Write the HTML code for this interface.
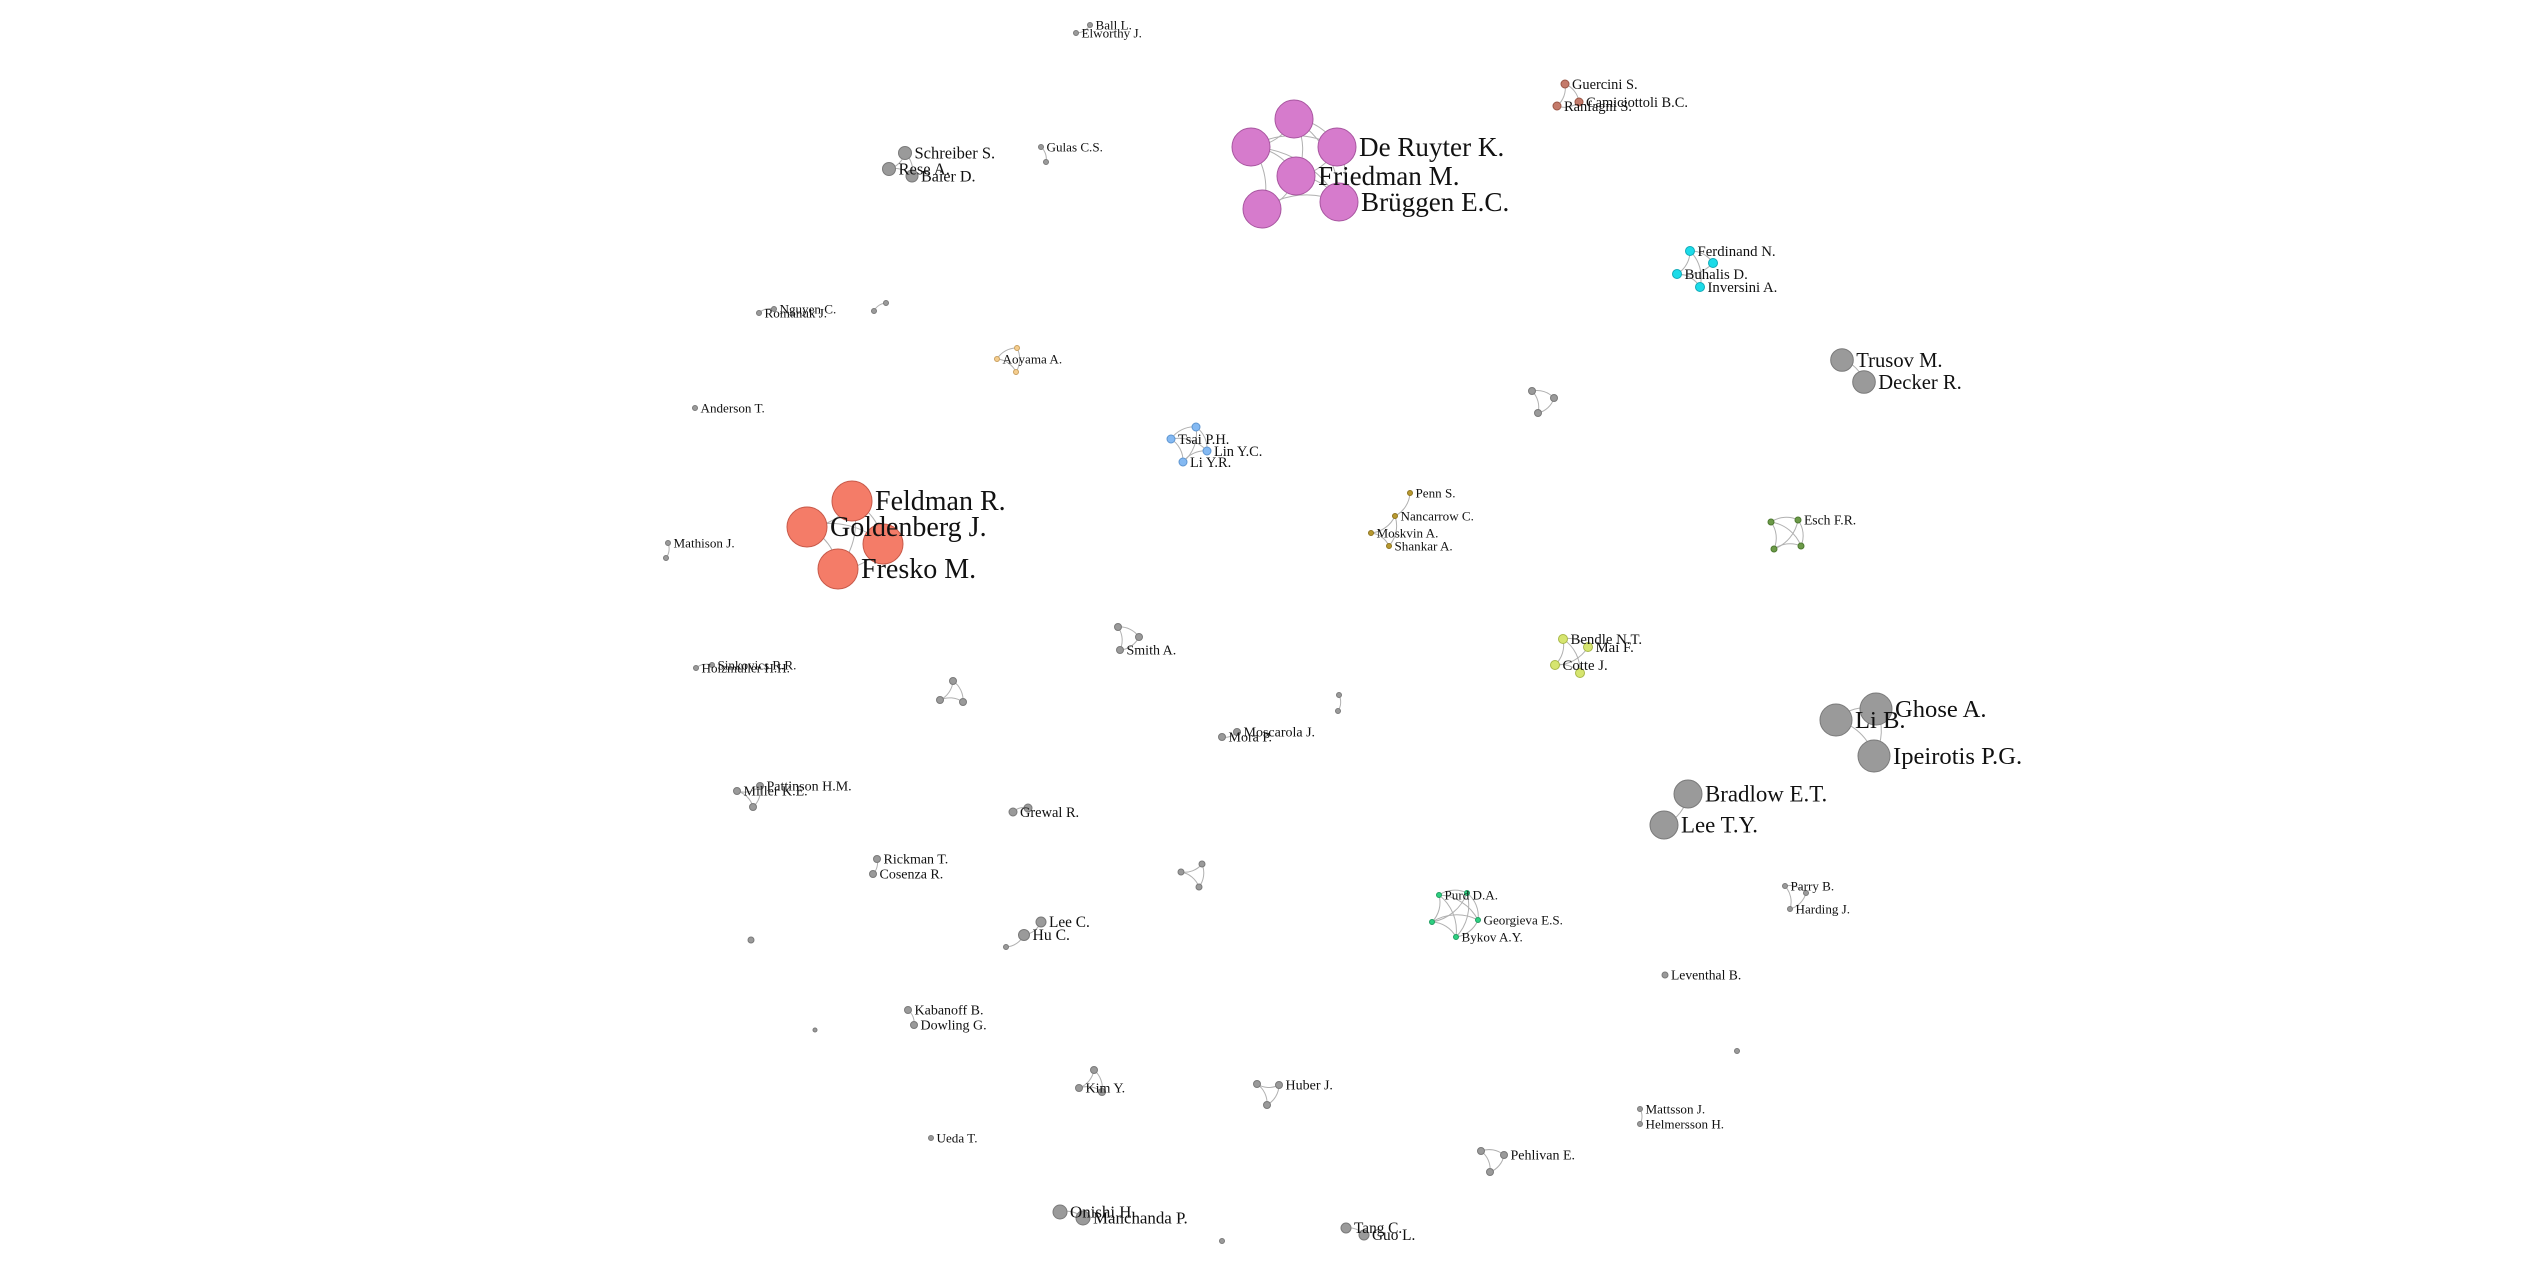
<!DOCTYPE html>
<html><head><meta charset="utf-8">
<style>
html,body{margin:0;padding:0;background:#fff;}
svg{display:block;}
text{font-family:"Liberation Serif","DejaVu Serif",serif;fill:#111;}
</style></head>
<body>
<svg id="net" width="2542" height="1275" viewBox="0 0 2542 1275" xmlns="http://www.w3.org/2000/svg">
<g id="edges"></g>
<g id="nodes"></g>
</svg>
<script>
const colors = {g:"#9a9a9a",p:"#d67bcc",o:"#f47c68",b:"#84b9f2",c:"#1cdbe8",r:"#c47a6a",y:"#b99a30",v:"#6c9a48",l:"#d6e56f",t:"#2ecf80",a:"#f5cd8e"};
const strokes = {g:"#7a7a7a",p:"#a856a0",o:"#c85a4a",b:"#5e95d0",c:"#10aab8",r:"#9a5646",y:"#8e7420",v:"#4d7a30",l:"#a8b848",t:"#1d9e60",a:"#c9a060"};
const nodeIds = ["ball","elw","sch","rese","baier","gulas","gulas2","rom","ngu","pa1","pa2","aoy","ao2","ao3","and","tsai","ts2","lin","liyr","feld","gold","or3","fres","math","math2","sm1","sm2","smith","pu1","pu2","druy","fried","pu5","brug","guer","cami","ranf","ferd","cy2","buh","inv","trus","deck","tr1","tr2","tr3","penn","nanc","mosk","shan","es1","esch","es3","es4","holz","sink","t21","t22","t23","mosc","mora","bend","mai","cotte","bd4","pb1","pb2","lib","ghose","ipei","patt","mill","mi3","grew","gr2","brad","leety","rick","cos","t31","t32","t33","purd","pd2","pd3","geor","byk","parry","pr2","hard","leec","huc","hu3","iso1","lev","kab","dow","iso2","iso3","ki1","kim","ki3","hub","hu2","hb3","matt","helm","ueda","pe1","pehl","pe3","oni","man","tang","guo","iso4"];
const nodeX = [1090,1076,905,889,912,1041,1046,759,774,874,886,997,1017,1016,695,1171,1196,1207,1183,852,807,883,838,668,666,1118,1139,1120,1294,1251,1337,1296,1262,1339,1565,1579,1557,1690,1713,1677,1700,1842,1864,1532,1554,1538,1410,1395,1371,1389,1771,1798,1774,1801,696,712,953,940,963,1237,1222,1563,1588,1555,1580,1339,1338,1836,1876,1874,760,737,753,1013,1028,1688,1664,877,873,1202,1181,1199,1439,1467,1432,1478,1456,1785,1806,1790,1041,1024,1006,751,1665,908,914,815,1737,1094,1079,1102,1279,1257,1267,1640,1640,931,1481,1504,1490,1060,1083,1346,1364,1222];
const nodeY = [25,33,153,169,176,147,162,313,309,311,303,359,348,372,408,439,427,451,462,501,527,544,569,543,558,627,637,650,119,147,147,176,209,202,84,102,106,251,263,274,287,360,382,391,398,413,493,516,533,546,522,520,549,546,668,665,681,700,702,732,737,639,647,665,673,695,711,720,709,756,786,791,807,812,808,794,825,859,874,864,872,887,895,893,922,920,937,886,893,909,922,935,947,940,975,1010,1025,1030,1051,1070,1088,1092,1085,1084,1105,1109,1124,1138,1151,1155,1172,1212,1218,1228,1235,1241];
const nodeR = [2.5,2.5,6.5,6.5,6,2.5,2.5,2.5,2.5,2.5,2.5,2.5,2.5,2.5,2.5,4,4,4,4,20,20,20,20,2.5,2.5,3.5,3.5,3.5,19,19,19,19,19,19,4,4,4,4.5,4.5,4.5,4.5,11.3,11.3,3.5,3.5,3.5,2.5,2.5,2.5,2.5,3,3,3,3,2.5,2.5,3.5,3.5,3.5,3.5,3.5,4.5,4.5,4.5,4.5,2.5,2.5,16,16,16,3.5,3.5,3.5,4,4,14,14,3.5,3.5,3,3,3,2.5,2.5,2.5,2.5,2.5,2.5,2.5,2.5,5,5.5,2.5,3,3,3.5,3.5,2,2.5,3.5,3.5,3.5,3.5,3.5,3.5,2.5,2.5,2.5,3.5,3.5,3.5,7,7,5,5,2.5];
const nodeGroup = "ggggggggggg"+"aaa"+"g"+"bbbb"+"oooo"+"gg"+"ggg"+"pppppp"+"rrr"+"cccc"+"gg"+"ggg"+"yyyy"+"vvvv"+"gg"+"ggg"+"gg"+"llll"+"gg"+"ggg"+"ggg"+"gg"+"gg"+"gg"+"ggg"+"ttttt"+"ggg"+"ggg"+"g"+"g"+"gg"+"g"+"g"+"ggg"+"ggg"+"gg"+"g"+"ggg"+"gg"+"gg"+"g";
const nodeLabels = ["Ball L.","Elworthy J.","Schreiber S.","Rese A.","Baier D.","Gulas C.S.","","Romanuk J.","Nguyen C.","","","Aoyama A.","","","Anderson T.","Tsai P.H.","","Lin Y.C.","Li Y.R.","Feldman R.","Goldenberg J.","","Fresko M.","Mathison J.","","","","Smith A.","","","De Ruyter K.","Friedman M.","","Brüggen E.C.","Guercini S.","Camiciottoli B.C.","Ranfagni S.","Ferdinand N.","","Buhalis D.","Inversini A.","Trusov M.","Decker R.","","","","Penn S.","Nancarrow C.","Moskvin A.","Shankar A.","","Esch F.R.","","","Holzmüller H.H.","Sinkovics R.R.","","","","Moscarola J.","Mora P.","Bendle N.T.","Mai F.","Cotte J.","","","","Li B.","Ghose A.","Ipeirotis P.G.","Pattinson H.M.","Miller K.E.","","Grewal R.","","Bradlow E.T.","Lee T.Y.","Rickman T.","Cosenza R.","","","","Purd D.A.","","","Georgieva E.S.","Bykov A.Y.","Parry B.","","Harding J.","Lee C.","Hu C.","","","Leventhal B.","Kabanoff B.","Dowling G.","","","","Kim Y.","","Huber J.","","","Mattsson J.","Helmersson H.","Ueda T.","","Pehlivan E.","","Onishi H.","Manchanda P.","Tang C.","Guo L.",""];
const edgeList = [["ball","elw"],["sch","rese"],["sch","baier"],["rese","baier"],["gulas","gulas2"],["rom","ngu"],["pa1","pa2"],["aoy","ao2"],["aoy","ao3"],["ao2","ao3"],["tsai","ts2"],["tsai","lin"],["tsai","liyr"],["ts2","lin"],["liyr","lin"],["ts2","liyr"],["feld","gold"],["feld","or3"],["feld","fres"],["gold","or3"],["gold","fres"],["or3","fres"],["math","math2"],["sm1","sm2"],["sm2","smith"],["sm1","smith"],["pu1","pu2"],["pu1","druy"],["pu1","fried"],["pu2","druy"],["pu2","fried"],["pu2","pu5"],["druy","fried"],["druy","brug"],["fried","pu5"],["fried","brug"],["pu5","brug"],["pu2","brug"],["pu1","brug"],["guer","cami"],["guer","ranf"],["cami","ranf"],["ferd","cy2"],["ferd","buh"],["ferd","inv"],["cy2","buh"],["buh","inv"],["trus","deck"],["tr1","tr2"],["tr1","tr3"],["tr2","tr3"],["penn","nanc"],["nanc","mosk"],["nanc","shan"],["mosk","shan"],["es1","esch"],["es1","es3"],["es1","es4"],["esch","es3"],["esch","es4"],["es3","es4"],["holz","sink"],["t21","t22"],["t21","t23"],["t22","t23"],["mosc","mora"],["bend","mai"],["bend","cotte"],["bend","bd4"],["mai","cotte"],["cotte","bd4"],["pb1","pb2"],["lib","ghose"],["lib","ipei"],["ghose","ipei"],["patt","mill"],["mill","mi3"],["patt","mi3"],["grew","gr2"],["brad","leety"],["rick","cos"],["t31","t32"],["t31","t33"],["t32","t33"],["purd","pd2"],["purd","pd3"],["purd","geor"],["purd","byk"],["pd2","geor"],["pd2","pd3"],["pd3","geor"],["pd3","byk"],["geor","byk"],["pd2","byk"],["parry","pr2"],["parry","hard"],["pr2","hard"],["leec","huc"],["huc","hu3"],["kab","dow"],["ki1","kim"],["ki1","ki3"],["kim","ki3"],["hub","hu2"],["hub","hb3"],["hu2","hb3"],["matt","helm"],["pe1","pehl"],["pe1","pe3"],["pehl","pe3"],["oni","man"],["tang","guo"]];

const NS = "http://www.w3.org/2000/svg";
const gE = document.getElementById("edges"), gN = document.getElementById("nodes");
function idx(id){return nodeIds.indexOf(id);}
edgeList.forEach(function(e){
  const a = idx(e[0]), b = idx(e[1]);
  const x1=nodeX[a], y1=nodeY[a], x2=nodeX[b], y2=nodeY[b];
  const d = Math.hypot(x2-x1,y2-y1)*1.0;
  const p = document.createElementNS(NS,"path");
  p.setAttribute("d","M"+x1+","+y1+" A"+d+","+d+" 0 0,1 "+x2+","+y2);
  p.setAttribute("fill","none");
  p.setAttribute("stroke","#b0b0b0");
  p.setAttribute("stroke-width","1");
  
  
  gE.appendChild(p);
});
nodeIds.forEach(function(id,i){
  const g = nodeGroup[i];
  const c = document.createElementNS(NS,"circle");
  c.setAttribute("cx",nodeX[i]); c.setAttribute("cy",nodeY[i]); c.setAttribute("r",nodeR[i]);
  c.setAttribute("fill",colors[g]); c.setAttribute("stroke",strokes[g]); c.setAttribute("stroke-width","1");
  
  
  gN.appendChild(c);
});
nodeIds.forEach(function(id,i){
  if(!nodeLabels[i]) return;
  const t = document.createElementNS(NS,"text");
  const fs = 11 + 0.85*nodeR[i];
  t.setAttribute("x", nodeX[i] + nodeR[i] + 3);
  t.setAttribute("y", nodeY[i] + fs*0.33);
  t.setAttribute("font-size", fs.toFixed(1));
  t.textContent = nodeLabels[i];
  
  
  gN.appendChild(t);
});
</script>
</body></html>
